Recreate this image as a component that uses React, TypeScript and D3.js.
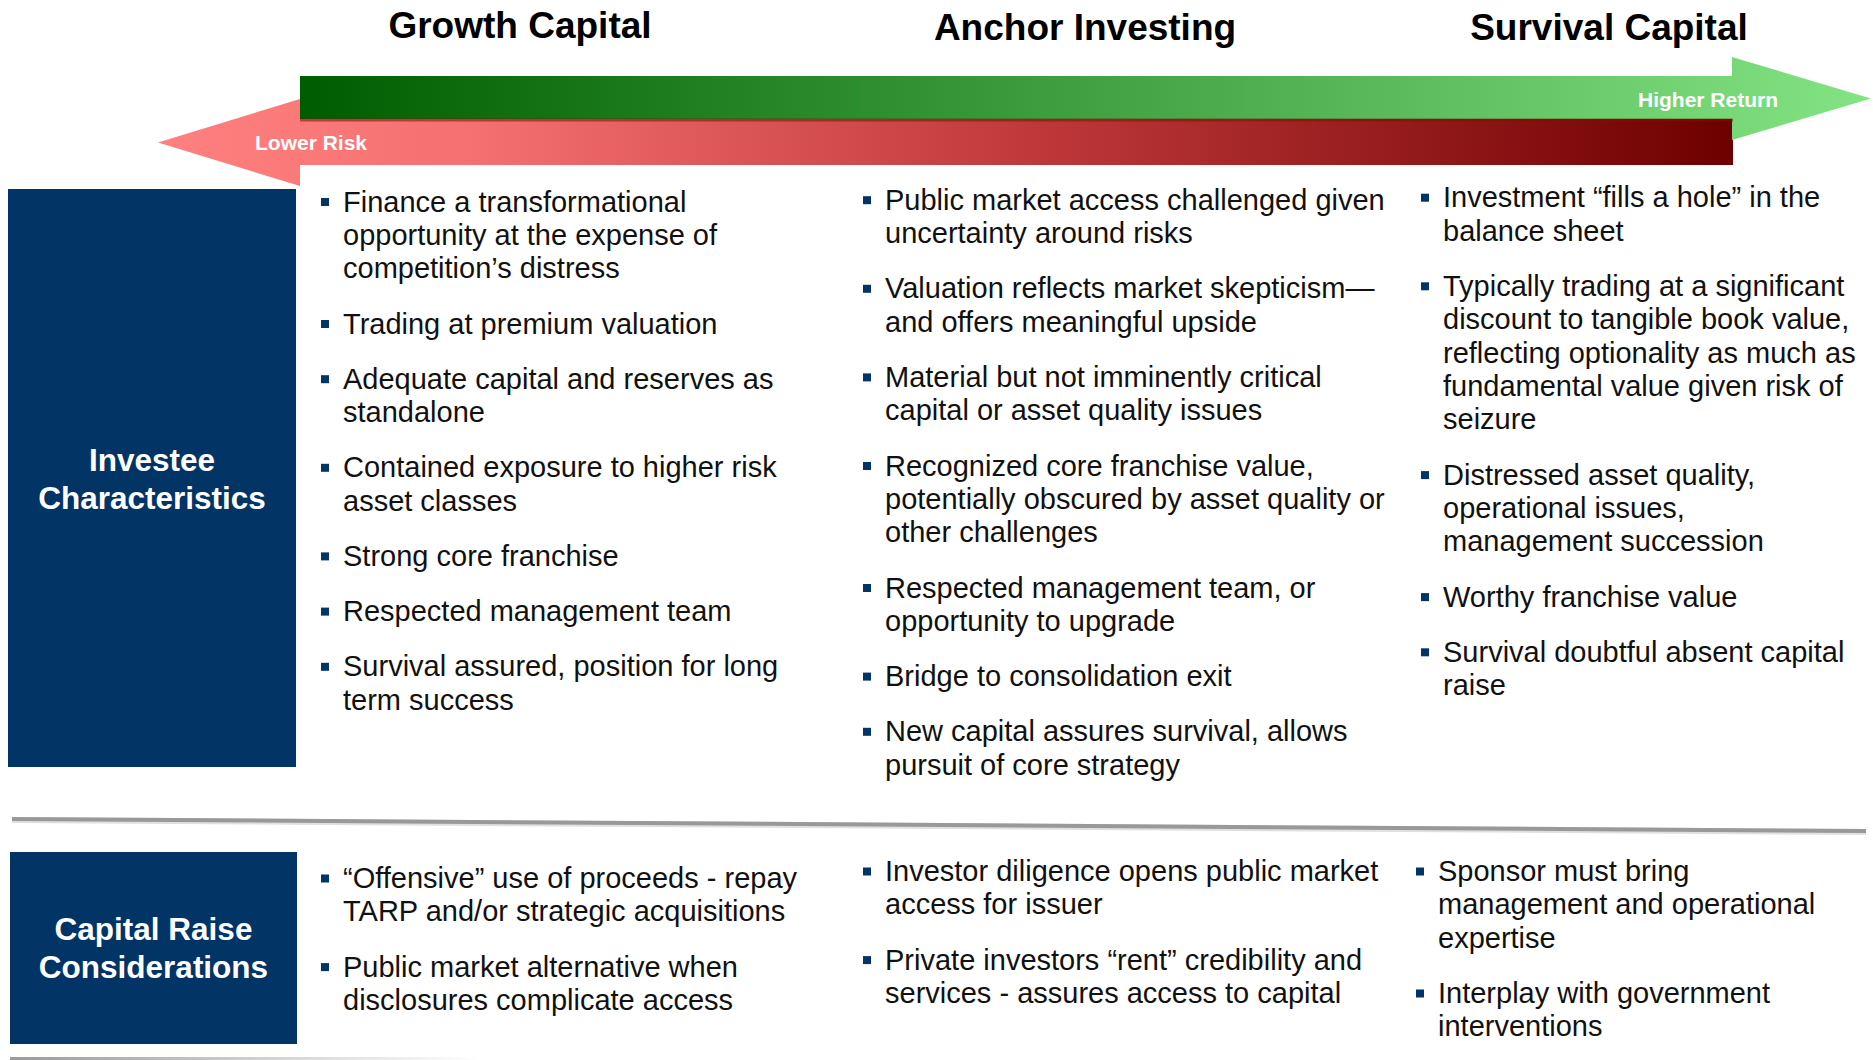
import React from "react";
import * as d3 from "d3";

const titles = ["Growth Capital", "Anchor Investing", "Survival Capital"];
const arrowLabels = ["Lower Risk", "Higher Return"];
const rowLabels = [
  ["Investee", "Characteristics"],
  ["Capital Raise", "Considerations"],
];

const investeeGrowth = [
  ["Finance a transformational", "opportunity at the expense of", "competition’s distress"],
  ["Trading at premium valuation"],
  ["Adequate capital and reserves as", "standalone"],
  ["Contained exposure to higher risk", "asset classes"],
  ["Strong core franchise"],
  ["Respected management team"],
  ["Survival assured, position for long", "term success"],
];
const investeeAnchor = [
  ["Public market access challenged given", "uncertainty around risks"],
  ["Valuation reflects market skepticism—", "and offers meaningful upside"],
  ["Material but not imminently critical", "capital or asset quality issues"],
  ["Recognized core franchise value,", "potentially obscured by asset quality or", "other challenges"],
  ["Respected management team, or", "opportunity to upgrade"],
  ["Bridge to consolidation exit"],
  ["New capital assures survival, allows", "pursuit of core strategy"],
];
const investeeSurvival = [
  ["Investment “fills a hole” in the", "balance sheet"],
  ["Typically trading at a significant", "discount to tangible book value,", "reflecting optionality as much as", "fundamental value given risk of", "seizure"],
  ["Distressed asset quality,", "operational issues,", "management succession"],
  ["Worthy franchise value"],
  ["Survival doubtful absent capital", "raise"],
];
const raiseGrowth = [
  ["“Offensive” use of proceeds - repay", "TARP and/or strategic acquisitions"],
  ["Public market alternative when", "disclosures complicate access"],
];
const raiseAnchor = [
  ["Investor diligence opens public market", "access for issuer"],
  ["Private investors “rent” credibility and", "services - assures access to capital"],
];
const raiseSurvival = [
  ["Sponsor must bring", "management and operational", "expertise"],
  ["Interplay with government", "interventions"],
];

const W = 1873;
const H = 1060;
const FONT = "'Liberation Sans', Arial, Helvetica, sans-serif";
const NAVY = "#023466";
const LINE_H = 33.4;
const PARA_GAP = 21.8;

type Block = { paras: string[][]; x: number; y0: number };

const blocks: Block[] = [
  { paras: investeeGrowth, x: 343, y0: 211.5 },
  { paras: investeeAnchor, x: 885, y0: 209.7 },
  { paras: investeeSurvival, x: 1443, y0: 207.2 },
  { paras: raiseGrowth, x: 343, y0: 888 },
  { paras: raiseAnchor, x: 885, y0: 881 },
  { paras: raiseSurvival, x: 1438, y0: 881 },
];

function layout(b: Block) {
  let y = b.y0;
  return b.paras.map((lines) => {
    const items = lines.map((t, i) => ({ t, y: y + i * LINE_H }));
    const first = y;
    y += lines.length * LINE_H + PARA_GAP;
    return { first, items };
  });
}

function greenArrow() {
  const p = d3.path();
  p.moveTo(300, 76);
  p.lineTo(1732, 76);
  p.lineTo(1732, 57);
  p.lineTo(1871, 98.5);
  p.lineTo(1732, 140);
  p.lineTo(1732, 119);
  p.lineTo(300, 119);
  p.closePath();
  return p.toString();
}
function redArrow() {
  const p = d3.path();
  p.moveTo(1733, 119);
  p.lineTo(300, 119);
  p.lineTo(300, 99);
  p.lineTo(158, 142.5);
  p.lineTo(300, 186);
  p.lineTo(300, 165);
  p.lineTo(1733, 165);
  p.closePath();
  return p.toString();
}

export default function App() {
  const titleX = [520, 1085, 1609];
  const titleY = [38, 40, 40];
  return (
    <svg
      width={W}
      height={H}
      viewBox={`0 0 ${W} ${H}`}
      style={{ position: "absolute", left: 0, top: 0, display: "block", background: "#fff" }}
      fontFamily={FONT}
    >
      <defs>
        <linearGradient id="gGreen" gradientUnits="userSpaceOnUse" x1={300} x2={1871} y1={0} y2={0}>
          <stop offset="0" stopColor="#005c00" />
          <stop offset="0.46" stopColor="#3a9c3c" />
          <stop offset="1" stopColor="#84e484" />
        </linearGradient>
        <linearGradient id="gRed" gradientUnits="userSpaceOnUse" x1={158} x2={1733} y1={0} y2={0}>
          <stop offset="0" stopColor="#ff8080" />
          <stop offset="0.2" stopColor="#f57070" />
          <stop offset="0.55" stopColor="#c0393b" />
          <stop offset="1" stopColor="#6e0000" />
        </linearGradient>
        <linearGradient id="gBottom" gradientUnits="userSpaceOnUse" x1={10} x2={480} y1={0} y2={0}>
          <stop offset="0" stopColor="#9a9a9a" />
          <stop offset="1" stopColor="#ffffff" />
        </linearGradient>
      </defs>

      {titles.map((t, i) => (
        <text key={t} x={titleX[i]} y={titleY[i]} textAnchor="middle" fontWeight="bold" fontSize={37} fill="#000">
          {t}
        </text>
      ))}

      <path d={redArrow()} fill="url(#gRed)" />
      <path d={greenArrow()} fill="url(#gGreen)" />
      <rect x={300} y={118.5} width={1433} height={3} fill="#7a1400" opacity={0.55} />
      <text x={255} y={150} fontWeight="bold" fontSize={21} fill="#fff">
        {arrowLabels[0]}
      </text>
      <text x={1638} y={107} fontWeight="bold" fontSize={21} fill="#fff">
        {arrowLabels[1]}
      </text>

      <rect x={8} y={189} width={288} height={578} fill={NAVY} />
      <text textAnchor="middle" fontWeight="bold" fontSize={31.5} fill="#fff">
        <tspan x={152} y={471}>{rowLabels[0][0]}</tspan>
        <tspan x={152} y={509}>{rowLabels[0][1]}</tspan>
      </text>
      <rect x={10} y={852} width={287} height={192} fill={NAVY} />
      <text textAnchor="middle" fontWeight="bold" fontSize={31.5} fill="#fff">
        <tspan x={153.5} y={940}>{rowLabels[1][0]}</tspan>
        <tspan x={153.5} y={978}>{rowLabels[1][1]}</tspan>
      </text>

      <line x1={12} y1={820} x2={1866} y2={832} stroke="#e0e0e0" strokeWidth={6} />
      <line x1={12} y1={819} x2={1866} y2={831} stroke="#999" strokeWidth={4} />
      <rect x={10} y={1057} width={470} height={3} fill="url(#gBottom)" />

      {blocks.map((b, bi) =>
        layout(b).map((para, pi) => (
          <g key={`${bi}-${pi}`}>
            <rect x={b.x - 22} y={para.first - 13.5} width={8} height={8} fill={NAVY} />
            <text fontSize={29} fill="#111">
              {para.items.map((it, li) => (
                <tspan key={li} x={b.x} y={it.y}>
                  {it.t}
                </tspan>
              ))}
            </text>
          </g>
        ))
      )}
    </svg>
  );
}
